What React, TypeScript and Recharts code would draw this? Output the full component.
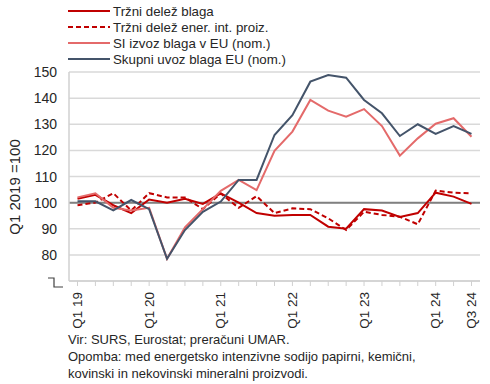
import React from 'react';
import { LineChart, Line, XAxis, YAxis, CartesianGrid, ReferenceLine } from 'recharts';

const categories = [
  'Q1 19', 'Q2 19', 'Q3 19', 'Q4 19',
  'Q1 20', 'Q2 20', 'Q3 20', 'Q4 20',
  'Q1 21', 'Q2 21', 'Q3 21', 'Q4 21',
  'Q1 22', 'Q2 22', 'Q3 22', 'Q4 22',
  'Q1 23', 'Q2 23', 'Q3 23', 'Q4 23',
  'Q1 24', 'Q2 24', 'Q3 24',
];
const shownLabels = ['Q1 19', 'Q1 20', 'Q1 21', 'Q1 22', 'Q1 23', 'Q1 24', 'Q3 24'];

const trzniDelez = [101.5, 103, 99, 96, 101.2, 100, 101.5, 99.5, 103.5, 100, 96, 95, 95.3, 95.3, 90.8, 90, 97.5, 97, 94.5, 96, 103.8, 102.3, 99.5];
const trzniDelezEner = [99, 100, 103.6, 97, 103.6, 102, 102, 97.5, 103.5, 98, 102.5, 96, 97.8, 97.5, 94, 89.5, 96.5, 95.3, 94.6, 91.7, 104.6, 103.8, 103.6];
const siIzvoz = [102, 103.6, 98, 97, 98, 78.5, 90.5, 97.5, 104.5, 108.7, 104.8, 119.8, 127.2, 139.3, 135.2, 132.9, 135.8, 129.3, 118, 124.6, 130.2, 132.3, 125.2];
const skupniUvoz = [100.5, 100.5, 97, 101, 97.5, 78.5, 89.5, 96.5, 100.4, 108.7, 108.7, 125.9, 133.5, 146.3, 148.8, 147.8, 139.3, 134.2, 125.5, 130, 126.3, 129.3, 126.3];

const yTicks = [70, 80, 90, 100, 110, 120, 130, 140, 150];

const seriesNames = [
  'Tržni delež blaga',
  'Tržni delež ener. int. proiz.',
  'SI izvoz blaga v EU (nom.)',
  'Skupni uvoz blaga EU (nom.)',
];
const footLines = [
  'Vir: SURS, Eurostat; preračuni UMAR.',
  'Opomba: med energetsko intenzivne sodijo papirni, kemični,',
  'kovinski in nekovinski mineralni proizvodi.',
];

const data = categories.map((c, i) => ({
  q: c,
  a: trzniDelez[i],
  b: trzniDelezEner[i],
  c: siIzvoz[i],
  d: skupniUvoz[i],
}));

const COL_RED = '#C00000';
const COL_SALMON = '#E46A6A';
const COL_BLUE = '#44546A';
const FONT = '"Liberation Sans", Arial, sans-serif';

const YTick = (props: any) => {
  const { x, y, payload } = props;
  if (payload.value === 70) {
    return (
      <path d={`M${x - 13},${y - 3} H${x - 7} V${y + 6} H${x + 2}`} stroke="#404040" strokeWidth={1.2} fill="none" />
    );
  }
  return (
    <text x={x - 4} y={y} dy={5} textAnchor="end" fontSize={14} fontFamily={FONT} fill="#262626">
      {payload.value}
    </text>
  );
};

const XTick = (props: any) => {
  const { x, y, payload } = props;
  if (!shownLabels.includes(payload.value)) return null;
  const tx = x + 4.7;
  const ty = y + 4;
  return (
    <text x={tx} y={ty} transform={`rotate(-90, ${tx}, ${ty})`} textAnchor="end" fontSize={13.5} fontFamily={FONT} fill="#262626">
      {payload.value}
    </text>
  );
};

const legendItems = [
  { name: seriesNames[0], color: COL_RED, dash: undefined as string | undefined },
  { name: seriesNames[1], color: COL_RED, dash: '5 3' },
  { name: seriesNames[2], color: COL_SALMON, dash: undefined },
  { name: seriesNames[3], color: COL_BLUE, dash: undefined },
];

export default function App() {
  return (
    <div style={{ position: 'absolute', left: 0, top: 0, width: 490, height: 384, background: '#fff', fontFamily: FONT }}>
      <LineChart width={490} height={384} data={data} margin={{ top: 72, right: 10, bottom: 73, left: 14 }}>
        <CartesianGrid horizontal vertical={false} stroke="#d9d9d9" strokeWidth={1.5} />
        <XAxis
          dataKey="q"
          interval={0}
          padding={{ left: 8.5, right: 8.5 }}
          height={30}
          axisLine={{ stroke: '#d0d0d0', strokeWidth: 1.5 }}
          tickLine={{ stroke: '#d0d0d0' }}
          tickSize={5}
          tick={<XTick />}
        />
        <YAxis
          domain={[70, 150]}
          ticks={yTicks}
          width={55}
          axisLine={{ stroke: '#d0d0d0', strokeWidth: 1.5 }}
          tickLine={false}
          tick={<YTick />}
          interval={0}
          label={{
            content: () => (
              <text x={20} y={187} transform="rotate(-90, 20, 187)" textAnchor="middle" fontSize={15} fontFamily={FONT} fill="#262626">
                Q1 2019 =100
              </text>
            ),
          }}
        />
        <YAxis
          yAxisId="right"
          orientation="right"
          width={0}
          domain={[70, 150]}
          tick={false}
          tickLine={false}
          axisLine={{ stroke: '#d9d9d9', strokeWidth: 1.5 }}
        />
        <ReferenceLine y={100} stroke="#808080" strokeWidth={2} />
        <Line dataKey="a" name={seriesNames[0]} stroke={COL_RED} strokeWidth={2} dot={false} isAnimationActive={false} />
        <Line dataKey="b" name={seriesNames[1]} stroke={COL_RED} strokeWidth={2} strokeDasharray="5 3" dot={false} isAnimationActive={false} />
        <Line dataKey="c" name={seriesNames[2]} stroke={COL_SALMON} strokeWidth={2} dot={false} isAnimationActive={false} />
        <Line dataKey="d" name={seriesNames[3]} stroke={COL_BLUE} strokeWidth={2} dot={false} isAnimationActive={false} />
      </LineChart>
      <svg width={490} height={70} style={{ position: 'absolute', left: 0, top: 0 }}>
        {legendItems.map((it, i) => {
          const cy = 11 + i * 16;
          return (
            <g key={it.name}>
              <line x1={68} x2={110} y1={cy} y2={cy} stroke={it.color} strokeWidth={2} strokeDasharray={it.dash} />
              <text x={113} y={cy + 4.7} fontSize={13.3} fontFamily={FONT} fill="#262626">{it.name}</text>
            </g>
          );
        })}
      </svg>
      <svg width={490} height={60} style={{ position: 'absolute', left: 0, top: 326 }}>
        {footLines.map((t, i) => (
          <text key={i} x={68} y={18 + i * 17} fontSize={13} fontFamily={FONT} fill="#262626">{t}</text>
        ))}
      </svg>
    </div>
  );
}
